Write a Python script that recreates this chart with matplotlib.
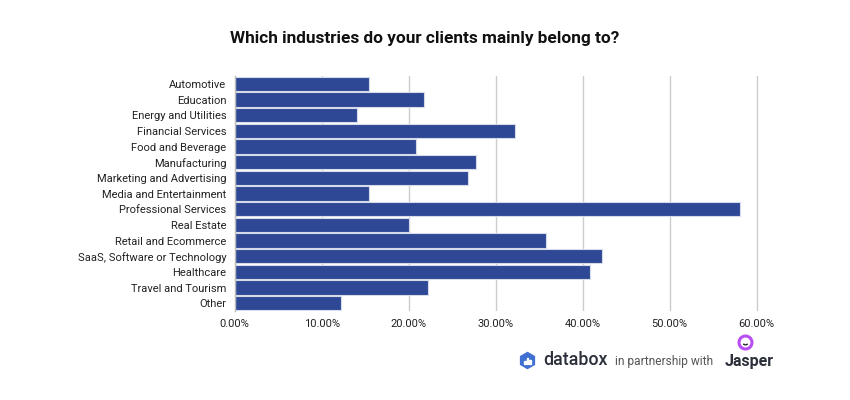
import matplotlib.pyplot as plt
from matplotlib.patches import RegularPolygon, Circle, Arc, Rectangle
from matplotlib.ticker import FuncFormatter

# Survey answers (share of respondents)
industries = ['Automotive', 'Education', 'Energy and Utilities', 'Financial Services',
              'Food and Beverage', 'Manufacturing', 'Marketing and Advertising',
              'Media and Entertainment', 'Professional Services', 'Real Estate',
              'Retail and Ecommerce', 'SaaS, Software or Technology', 'Healthcare',
              'Travel and Tourism', 'Other']
shares = [0.154, 0.218, 0.141, 0.322, 0.209, 0.277, 0.268, 0.154, 0.581, 0.200,
          0.358, 0.422, 0.408, 0.222, 0.122]
ticks = [0.0, 0.1, 0.2, 0.3, 0.4, 0.5, 0.6]

plt.rcParams['font.family'] = ['Roboto', 'DejaVu Sans']

fig = plt.figure(figsize=(8.5, 4), dpi=100)
ax = fig.add_axes([0.276, 0.2225, 0.6244, 0.5875])

ax.barh(range(len(industries)), shares, height=0.9, color='#2e4895',
        edgecolor='#d6dbea', linewidth=0.8, zorder=3)
ax.set_ylim(len(industries) - 0.5, -0.5)
ax.set_xlim(0, 0.61)
ax.set_yticks(range(len(industries)))
ax.set_yticklabels(industries, fontsize=8, color='#222222')
ax.set_xticks(ticks)
ax.xaxis.set_major_formatter(FuncFormatter(lambda v, p: f'{v * 100:.2f}%'))
ax.tick_params(axis='x', labelsize=8, colors='#222222', length=0, pad=6)
ax.tick_params(axis='y', length=0, pad=6)
ax.grid(axis='x', color='#cccccc', linewidth=1, zorder=0)
ax.set_axisbelow(True)
for s in ['top', 'right', 'bottom']:
    ax.spines[s].set_visible(False)
ax.spines['left'].set_color('#bbbbbb')
ax.spines['left'].set_zorder(4)
ax.spines['left'].set_linewidth(1)

fig.text(0.5, 0.905, 'Which industries do your clients mainly belong to?',
         ha='center', va='center', fontsize=12.4, fontweight='bold', color='#111111')

# Footer: databox in partnership with Jasper (logo positions in inches)
inch = fig.dpi_scale_trans
fig.patches.append(RegularPolygon((5.275, 0.395), 6, radius=0.08, orientation=0,
                                  transform=inch, color='#3f6fd0', zorder=5))
for bx, bh in [(5.25, 0.03), (5.275, 0.06), (5.30, 0.045)]:
    fig.patches.append(Rectangle((bx - 0.006, 0.36), 0.012, bh, transform=inch,
                                 color='white', zorder=6))
fig.text(0.639, 0.1, 'databox', ha='left', va='center', fontsize=12.8,
         fontweight='medium', color='#2b2f3a')
fig.text(0.7235, 0.097, 'in partnership with', ha='left', va='center', fontsize=8.6,
         color='#555555')
fig.text(0.852, 0.097, 'Jasper', ha='left', va='center', fontsize=11.5,
         fontweight='bold', color='#2b2f3a')
fig.patches.append(Circle((7.455, 0.575), 0.065, transform=inch, fill=False,
                          edgecolor='#b84ef2', linewidth=2.2, zorder=5))
fig.patches.append(Arc((7.455, 0.57), 0.05, 0.035, theta1=200, theta2=340,
                       transform=inch, color='#333333', linewidth=1.1, zorder=5))

fig.savefig('out.png', dpi=100)
